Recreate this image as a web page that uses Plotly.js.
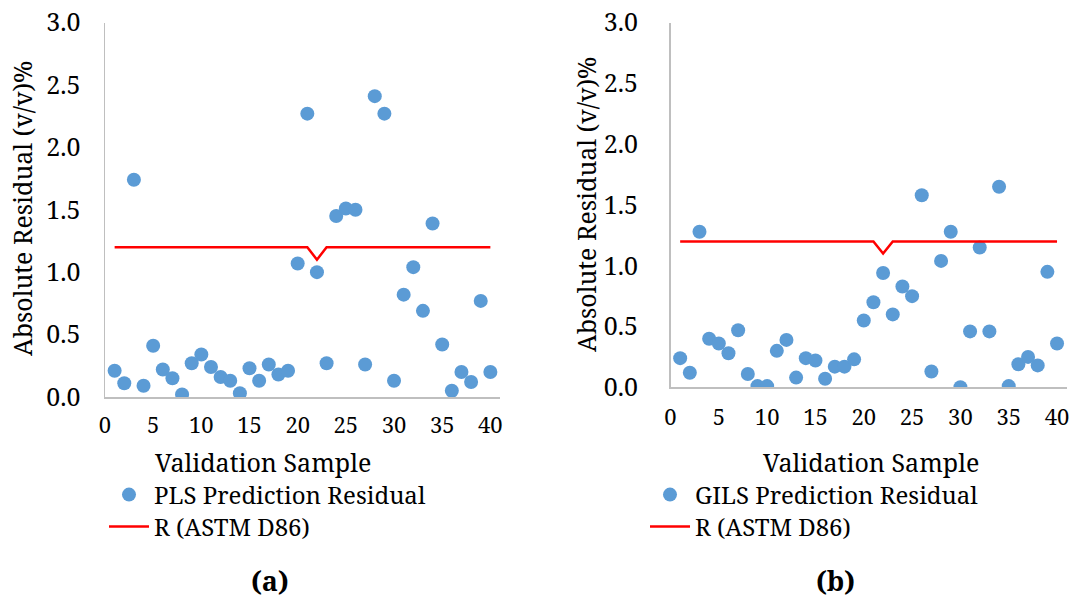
<!DOCTYPE html>
<html>
<head>
<meta charset="utf-8">
<script src="https://cdn.plot.ly/plotly-3.0.1.min.js"></script>
<style>html,body{margin:0;padding:0;background:#fff;}#chart{width:1077px;height:606px;}</style>
</head>
<body>
<div id="chart"></div>
<script>
// Validation sample numbers 1..40
const samples = [1,2,3,4,5,6,7,8,9,10,11,12,13,14,15,16,17,18,19,20,21,22,23,24,25,26,27,28,29,30,31,32,33,34,35,36,37,38,39,40];

// (a) PLS prediction absolute residuals
const plsResidual = [0.21,0.11,1.74,0.09,0.41,0.22,0.15,0.02,0.27,0.34,0.24,0.16,0.13,0.03,0.23,0.13,0.26,0.18,0.21,1.07,2.27,1.00,0.27,1.45,1.51,1.50,0.26,2.41,2.27,0.13,0.82,1.04,0.69,1.39,0.42,0.05,0.20,0.12,0.77,0.20];

// (b) GILS prediction absolute residuals
const gilsResidual = [0.24,0.12,1.28,0.40,0.36,0.28,0.47,0.11,0.01,0.01,0.30,0.39,0.08,0.24,0.22,0.07,0.17,0.17,0.23,0.55,0.70,0.94,0.60,0.83,0.75,1.58,0.13,1.04,1.28,0.00,0.46,1.15,0.46,1.65,0.01,0.19,0.25,0.18,0.95,0.36];

// Reproducibility R (ASTM D86)
const reproR = [1.2,1.2,1.2,1.2,1.2,1.2,1.2,1.2,1.2,1.2,1.2,1.2,1.2,1.2,1.2,1.2,1.2,1.2,1.2,1.2,1.2,1.1,1.2,1.2,1.2,1.2,1.2,1.2,1.2,1.2,1.2,1.2,1.2,1.2,1.2,1.2,1.2,1.2,1.2,1.2];

const xTicks = [0,5,10,15,20,25,30,35,40];
const yTicks = [0,0.5,1,1.5,2,2.5,3];
const yTickText = ["0.0","0.5","1.0","1.5","2.0","2.5","3.0"];

const FONT = "Noto Serif, DejaVu Serif, serif";
const W = 1077, H = 606;
const px = v => v / W;
const py = v => 1 - v / H;

const blue = "#5B9BD5";
const red = "#FF0000";

const traces = [
  {x: samples, y: plsResidual, type: "scatter", mode: "markers", name: "PLS Prediction Residual",
   marker: {color: blue, size: 14}, xaxis: "x", yaxis: "y", legend: "legend"},
  {x: samples, y: reproR, type: "scatter", mode: "lines", name: "R (ASTM D86)",
   line: {color: red, width: 2.5}, xaxis: "x", yaxis: "y", legend: "legend2"},
  {x: samples, y: gilsResidual, type: "scatter", mode: "markers", name: "GILS Prediction Residual",
   marker: {color: blue, size: 14}, xaxis: "x2", yaxis: "y2", legend: "legend3"},
  {x: samples, y: reproR, type: "scatter", mode: "lines", name: "R (ASTM D86)",
   line: {color: red, width: 2.5}, xaxis: "x2", yaxis: "y2", legend: "legend4"}
];

function xax(domain, standoff) {
  return {domain: domain, range: [0, 41], tickvals: xTicks, ticktext: xTicks.map(String),
    showgrid: false, zeroline: false, showline: true, linecolor: "#BFBFBF", linewidth: 1.5,
    ticks: "", ticklabelstandoff: standoff, tickfont: {family: FONT, size: 22, color: "#000"}, fixedrange: true};
}
function yax(domain, anchor, standoff) {
  return {domain: domain, range: [0, 3], tickvals: yTicks, ticktext: yTickText, anchor: anchor,
    showgrid: false, zeroline: false, showline: true, linecolor: "#BFBFBF", linewidth: 1.5,
    ticks: "", ticklabelstandoff: standoff, tickfont: {family: FONT, size: 25, color: "#000"}, fixedrange: true};
}

const ann = (text, x, y, opts) => Object.assign({text: text, x: px(x), y: py(y), xref: "paper", yref: "paper",
  showarrow: false, xanchor: "center", yanchor: "middle", font: {family: FONT, size: 25, color: "#000"}}, opts || {});

const leg = (x, y) => ({x: px(x), y: py(y), xanchor: "left", yanchor: "middle", bgcolor: "rgba(0,0,0,0)",
  font: {family: FONT, size: 24, color: "#000"}, tracegroupgap: 0, itemwidth: 40});

const layout = {
  width: W, height: H,
  margin: {l: 0, r: 0, t: 0, b: 0},
  paper_bgcolor: "#fff", plot_bgcolor: "#fff",
  showlegend: true,
  xaxis: xax([px(105), px(500)], 8),
  yaxis: yax([py(397), py(22.5)], "x", 18),
  xaxis2: Object.assign(xax([px(670.5), px(1066.7)], 10), {anchor: "y2"}),
  yaxis2: yax([py(387.3), py(22.7)], "x2", 26),
  legend: leg(104, 495),
  legend2: leg(104, 527),
  legend3: leg(645, 495),
  legend4: leg(645, 527),
  annotations: [
    ann("Absolute Residual (v/v)%", 22, 209, {textangle: -90}),
    ann("Absolute Residual (v/v)%", 586, 205, {textangle: -90}),
    ann("Validation Sample", 263, 462),
    ann("Validation Sample", 871, 462),
    ann("<b>(a)</b>", 270, 580, {font: {family: FONT, size: 27, color: "#000"}}),
    ann("<b>(b)</b>", 835, 580, {font: {family: FONT, size: 27, color: "#000"}})
  ]
};

Plotly.newPlot("chart", traces, layout, {displayModeBar: false, staticPlot: true});
</script>
</body>
</html>
